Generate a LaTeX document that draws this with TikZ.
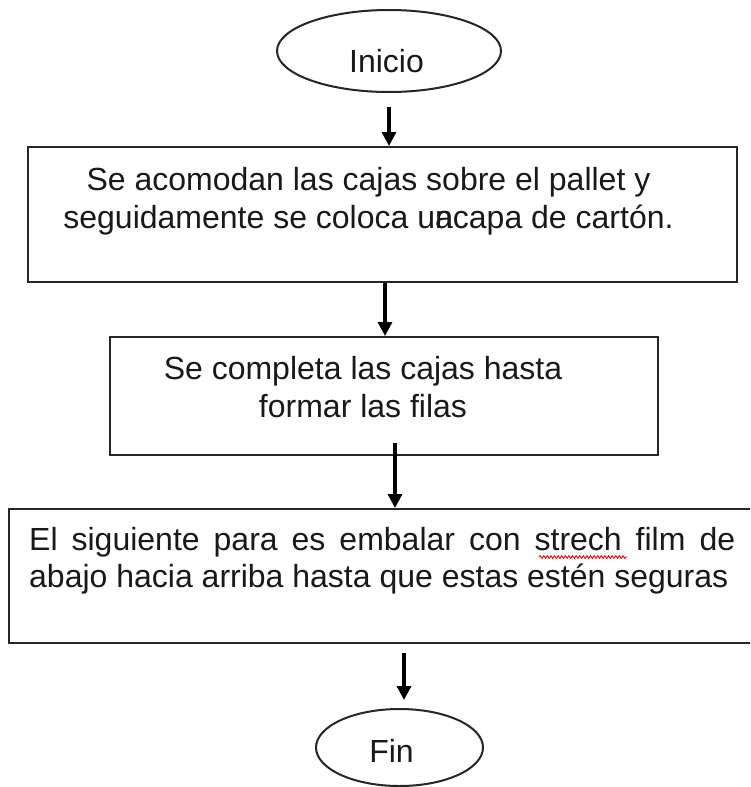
\documentclass[tikz,border=0pt]{standalone}
\usepackage{fontspec}
\setmainfont{Liberation Sans}
\usetikzlibrary{arrows.meta,shapes.geometric,decorations.pathmorphing}
\tolerance=9999 \hbadness=10000 \hyphenpenalty=10000
\begin{document}
\begin{tikzpicture}[x=1pt,y=-1pt,
  box/.style={draw=black!85,line width=2pt,rectangle,inner sep=0pt},
  term/.style={draw=black!85,line width=2pt,ellipse,inner sep=0pt},
  txt/.style={font=\fontsize{32}{37.5}\selectfont,inner sep=0pt,text=black!90},
  arr/.style={line width=3.2pt,-{Triangle[length=14pt,width=14pt]}},
  wave/.style={draw=red,line width=0.9pt,decorate,decoration={snake,amplitude=1.3pt,segment length=3.6pt}}
]
\clip (0,0) rectangle (750,787);
\fill[white] (0,0) rectangle (750,787);
% terminals
\node[term,minimum width=224pt,minimum height=82pt] (inicio) at (389,51) {};
\node[txt,anchor=base] (tinicio) at (386.5,72) {Inicio};
\node[term,minimum width=167pt,minimum height=77pt] (fin) at (399.5,747.5) {};
\node[txt,anchor=base] (tfin) at (391.5,762) {Fin};
% boxes
\node[box,minimum width=709pt,minimum height=135pt] (b1) at (382.5,214.5) {};
\node[txt,anchor=base,align=center] (t1) at (368.5,228) {Se acomodan las cajas sobre el pallet y\\seguidamente se coloca u\makebox[0pt][l]{n}acapa de cartón.};
\node[box,minimum width=548pt,minimum height=118pt] (b2) at (384,396) {};
\node[txt,anchor=base,align=center] (t2) at (363,417) {Se completa las cajas hasta\\formar las filas};
\node[box,minimum width=751pt,minimum height=134pt] (b3) at (384.5,576) {};
\node[txt,anchor=base west,text width=706pt,align=justify] (t3) at (29,550) {El siguiente para es embalar con strech film de\linebreak abajo hacia arriba hasta que estas estén seguras};
\draw[wave] (539,557) -- (627,557);
% connectors
\draw[arr,shorten <=14pt] (inicio.south) -- (inicio.south |- b1.north);
\draw[arr] ([xshift=2.5pt]b1.south) -- ([xshift=2.5pt]b1.south |- b2.north);
\draw[arr] ([xshift=11pt,yshift=13pt]b2.south) -- ([xshift=11pt]b2.south |- b3.north);
\draw[arr,shorten <=9pt,shorten >=8pt] ([xshift=4.5pt]fin.north |- b3.south) -- ([xshift=4.5pt]fin.north);
\end{tikzpicture}
\end{document}
